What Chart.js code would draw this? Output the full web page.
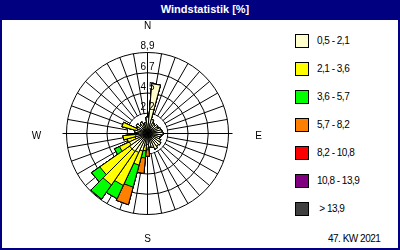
<!DOCTYPE html>
<html>
<head>
<meta charset="utf-8">
<script src="https://cdn.jsdelivr.net/npm/chart.js@4/dist/chart.umd.min.js"></script>
<style>
  body { margin: 0; font-family: "Liberation Sans", Arial, sans-serif; }
  #frame { position: absolute; left: 0; top: 0; width: 400px; height: 250px; box-sizing: border-box; border: 2px solid #000080; background: #fff; }
  #head { position: absolute; left: 0; top: 0; width: 400px; height: 20px; background: #000080; color: #fff; font: bold 11px "Liberation Sans", Arial, sans-serif; line-height: 19px; text-align: center; text-indent: 10px; }
  #rose { position: absolute; left: 2px; top: 21px; }
  .item { position: absolute; left: 295px; height: 14px; font-size: 10px; line-height: 14px; letter-spacing: -0.5px; }
  .item span { position: absolute; left: 0; top: 0; width: 14px; height: 14px; box-sizing: border-box; border: 1px solid #000; }
  .item b { position: absolute; left: 22px; top: 0; font-weight: normal; white-space: pre; }
  #week { position: absolute; left: 328px; top: 233px; font-size: 10px; letter-spacing: -0.5px; }
</style>
</head>
<body>
<div id="frame"></div>
<div id="head">Windstatistik [%]</div>
<canvas id="rose" width="276" height="227"></canvas>
<div id="legend"></div>
<div id="week">47. KW 2021</div>
<script>
//wind directions in degrees, one every 10 degrees starting at north
const directions = ['0', '10', '20', '30', '40', '50', '60', '70', '80', '90', '100', '110', '120', '130', '140', '150', '160', '170',
  '180', '190', '200', '210', '220', '230', '240', '250', '260', '270', '280', '290', '300', '310', '320', '330', '340', '350'];

//speed classes (m/s) and their colours
const classLabels = ['0,5 - 2,1', '2,1 - 3,6', '3,6 - 5,7', '5,7 - 8,2', '8,2 - 10,8', '10,8 - 13,9', ' > 13,9'];
const classColors = ['#ffffcc', '#ffff00', '#00ff00', '#ff8000', '#ff0000', '#800080', '#404040'];

//share of time in % per direction for every speed class
const class1 = [1.8, 5.5, 1.6, 1.3, 1.2, 1.4, 1.3, 1.5, 1.6, 1.7, 1.5, 1.4, 1.6, 1.8, 1.7, 1.9, 1.6, 1.5,
  1.2, 1.3, 2.0, 2.3, 2.4, 2.4, 2.2, 1.4, 1.3, 1.0, 1.4, 1.2, 1.3, 1.5, 1.2, 1.4, 1.0, 1.2];
const class2 = [0, 0, 0, 0, 0, 0, 0, 0, 0, 0, 0, 0, 0, 0, 0, 0, 0, 0,
  0.4, 0.6, 1.6, 4.0, 4.5, 4.0, 1.2, 0.9, 1.4, 0, 0, 1.7, 0, 0, 0, 0, 0, 0];
const class3 = [0, 0, 0, 0, 0, 0, 0, 0, 0, 0, 0, 0, 0, 0, 0, 0, 0, 0,
  0.2, 0.8, 2.5, 1.6, 1.9, 1.1, 0.6, 0, 0, 0, 0, 0, 0, 0, 0, 0, 0, 0];
const class4 = [0, 0, 0, 0, 0, 0, 0, 0, 0, 0, 0, 0, 0, 0, 0, 0, 0, 0,
  0.7, 1.7, 2.0, 0, 0, 0, 0, 0, 0, 0, 0, 0, 0, 0, 0, 0, 0, 0];
const class5 = new Array(36).fill(0);
const class6 = new Array(36).fill(0);
const class7 = new Array(36).fill(0);

//rings of the rose
const scaleMax = 8.9;
const tickLabels = ['2,2', '4,5', '6,7', '8,9'];

//polar area can not stack, so every dataset gets the running sum and the small ones are drawn on top
let classes = [class1, class2, class3, class4, class5, class6, class7];
let running = new Array(36).fill(0);
let datasets = classes.map((values, i) => {
  running = running.map((sum, d) => sum + values[d]);
  return { label: classLabels[i], data: running.slice(), backgroundColor: classColors[i], rAxisID: 'r' };
});

//legend as plain html
let legend = document.getElementById('legend');
classLabels.forEach((text, i) => {
  let div = document.createElement('div');
  div.className = 'item';
  div.style.top = (34 + i * 28) + 'px';
  div.innerHTML = '<span style="background:' + classColors[i] + '"></span><b>' + text + '</b>';
  legend.appendChild(div);
});

//white middle, axis cross, ring values and compass letters
const roseDecor = {
  id: 'roseDecor',
  beforeDraw(chart) {
    chart.ctx.save();
    chart.ctx.translate(0.5, 0.5);
  },
  afterDraw(chart) {
    chart.ctx.restore();
  },
  beforeDatasetsDraw(chart) {
    let g = chart.scales.g;
    let ctx = chart.ctx;
    let x = g.xCenter, y = g.yCenter, R = g.drawingArea;
    ctx.save();
    ctx.fillStyle = '#fff';
    ctx.beginPath();
    ctx.arc(x, y, g.getDistanceFromCenterForValue(g.ticks[1].value) - 0.5, 0, Math.PI * 2);
    ctx.fill();
    ctx.strokeStyle = '#000';
    ctx.lineWidth = 1;
    ctx.beginPath();
    ctx.moveTo(x, y - R); ctx.lineTo(x, y + R);
    ctx.moveTo(x - R - 4, y); ctx.lineTo(x + R + 4, y);
    ctx.stroke();
    ctx.restore();
  },
  afterDatasetsDraw(chart) {
    let g = chart.scales.g;
    let ctx = chart.ctx;
    let x = g.xCenter, y = g.yCenter, R = g.drawingArea;
    ctx.save();
    ctx.fillStyle = '#000';
    ctx.font = '10px "Liberation Sans", Arial, sans-serif';
    ctx.textAlign = 'center';
    ctx.textBaseline = 'middle';
    g.ticks.forEach((t, i) => {
      if (i > 0) ctx.fillText(t.label, x, y - g.getDistanceFromCenterForValue(t.value) - 6);
    });
    ctx.fillText('N', x, y - R - 26);
    ctx.fillText('S', x, y + R + 25);
    ctx.fillText('W', x - R - 30, y + 3);
    ctx.fillText('E', x + R + 30, y + 3);
    ctx.restore();
  }
};

let ctx = document.getElementById('rose').getContext('2d');
let chart = new Chart(ctx, {
  type: 'polarArea',
  data: {
    labels: directions,
    datasets: datasets
  },
  options: {
    responsive: false,
    animation: false,
    layout: { padding: { left: 64, top: 31, right: 50, bottom: 34 } },
    elements: { arc: { borderColor: '#000', borderWidth: 1, circular: false } },
    plugins: { legend: { display: false }, tooltip: { enabled: false } },
    scales: {
      r: { min: 0, max: scaleMax, startAngle: -5, display: false },
      g: {
        axis: 'r',
        type: 'radialLinear',
        min: 0,
        max: scaleMax,
        startAngle: 0,
        ticks: { display: false, stepSize: scaleMax / 4, callback: (v, i) => i > 0 ? tickLabels[i - 1] : '' },
        grid: { circular: true, color: '#000', lineWidth: 1 },
        angleLines: { display: true, color: '#000', lineWidth: 1 },
        pointLabels: { display: false }
      }
    }
  },
  plugins: [roseDecor]
});
</script>
</body>
</html>
